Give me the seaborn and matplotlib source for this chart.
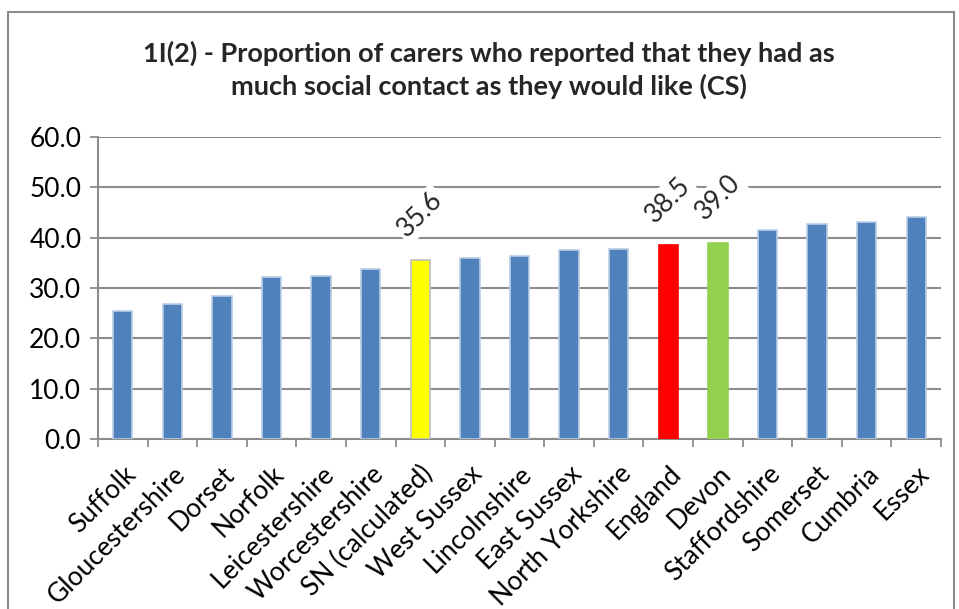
import matplotlib
matplotlib.use("Agg")
import matplotlib.pyplot as plt
import seaborn as sns
import pandas as pd
from matplotlib.patches import Rectangle

categories = ["Suffolk", "Gloucestershire", "Dorset", "Norfolk", "Leicestershire",
              "Worcestershire", "SN (calculated)", "West Sussex", "Lincolnshire",
              "East Sussex", "North Yorkshire", "England", "Devon", "Staffordshire",
              "Somerset", "Cumbria", "Essex"]
values = [25.5, 26.8, 28.4, 32.2, 32.4, 33.8, 35.6, 36.0, 36.4, 37.5, 37.8,
          38.5, 39.0, 41.5, 42.8, 43.1, 44.2]
labelled = ["SN (calculated)", "England", "Devon"]
yticks = [0, 10, 20, 30, 40, 50, 60]

BLUE = "#4F81BD"
highlight = {"SN (calculated)": "#FFFF00", "England": "#FF0000", "Devon": "#92D050"}
edge = {"SN (calculated)": "#BFBFBF", "England": "#FF0000", "Devon": "#92D050"}
colors = [highlight.get(c, BLUE) for c in categories]
edges = [edge.get(c, "#B9CDE5") for c in categories]

sns.set_theme(style="white")
plt.rcParams["font.family"] = ["Lato", "DejaVu Sans"]
FS = 19

df = pd.DataFrame({"area": categories, "value": values})

fig = plt.figure(figsize=(9.59, 6.09), dpi=100)
ax = fig.add_axes([98 / 959, 1 - 439 / 609, (941 - 98) / 959, (439 - 137) / 609])

sns.barplot(data=df, x="area", y="value", hue="area", palette=colors,
            width=0.39, legend=False, ax=ax, saturation=1)
for patch, ec in zip(ax.patches, edges):
    patch.set_edgecolor(ec)
    patch.set_linewidth(1.2)
    patch.set_zorder(3)

ax.set_xlim(-0.5, len(categories) - 0.5)
ax.set_ylim(0, 60)
ax.set_yticks(yticks)
ax.set_yticklabels([f"{t:.1f}" for t in yticks], fontsize=FS, color="black")
ax.yaxis.grid(True, color="#8C8C8C", linewidth=1.5, zorder=0)
ax.set_axisbelow(True)

ax.set_xticks(range(len(categories)))
ax.set_xticklabels(categories, rotation=45, ha="right", va="top",
                   rotation_mode="anchor", fontsize=FS, color="black")
ax.tick_params(axis="x", length=0, pad=16)
# tick marks on category boundaries
ax.set_xticks([i - 0.5 for i in range(len(categories) + 1)], minor=True)
ax.tick_params(axis="x", which="minor", length=6, width=1.3, color="#8C8C8C",
               direction="out", bottom=True)
ax.tick_params(axis="y", length=6, width=1.3, color="#8C8C8C", direction="out",
               left=True, pad=6)
ax.set_xlabel("")
ax.set_ylabel("")

for side in ["top", "right"]:
    ax.spines[side].set_visible(False)
for side in ["left", "bottom"]:
    ax.spines[side].set_color("#8C8C8C")
    ax.spines[side].set_linewidth(1.5)

for i, (c, v) in enumerate(zip(categories, values)):
    if c in labelled:
        ax.annotate(f"{v:.1f}", xy=(i, v), xytext=(0, 13), textcoords="offset points",
                    rotation=45, ha="center", va="bottom", fontsize=FS,
                    bbox=dict(fc="white", ec="none", pad=2), zorder=5)

fig.text(489 / 959, 1 - 70 / 609,
         "1I(2) - Proportion of carers who reported that they had as\nmuch social contact as they would like (CS)",
         ha="center", va="center", fontsize=19.5, fontweight="bold",
         linespacing=1.35)

fig.patches.append(Rectangle((8 / 959, -0.05), (954 - 8) / 959, 1.05 - 12 / 609,
                             transform=fig.transFigure, fill=False,
                             edgecolor="#8C8C8C", linewidth=1.5))

fig.savefig("out.png", dpi=100, facecolor="white")
